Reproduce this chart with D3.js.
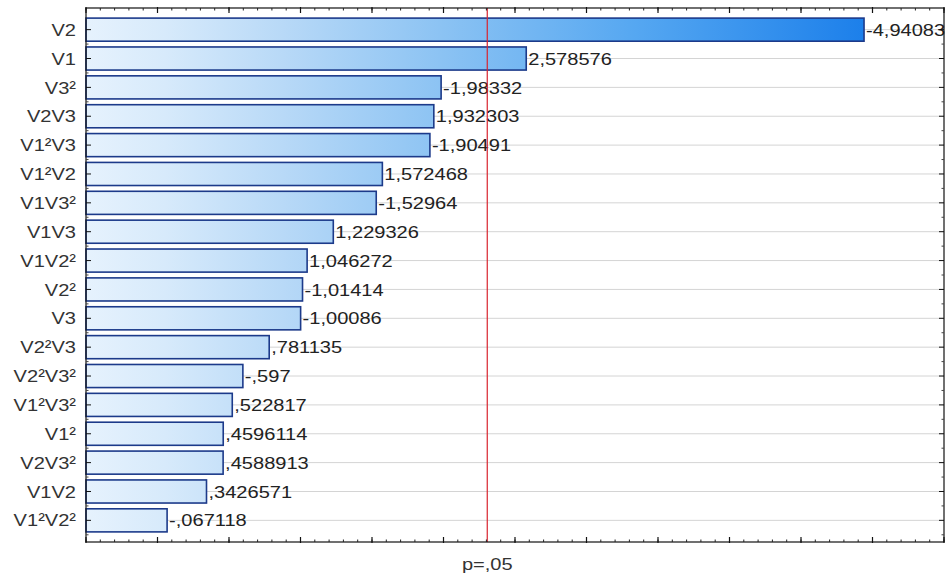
<!DOCTYPE html>
<html>
<head>
<meta charset="utf-8">
<script src="https://cdn.jsdelivr.net/npm/d3@7"></script>
<style>
  html, body { margin: 0; padding: 0; background: #fff; }
  svg { display: block; }
  text { font-family: "Liberation Sans", Arial, sans-serif; }
</style>
</head>
<body>
<svg id="chart" width="947" height="578"></svg>
<script>
// Pareto chart of standardized effects (sorted by absolute size)
const effects = ["V2", "V1", "V3²", "V2V3", "V1²V3", "V1²V2", "V1V3²", "V1V3", "V1V2²",
                 "V2²", "V3", "V2²V3", "V2²V3²", "V1²V3²", "V1²", "V2V3²", "V1V2", "V1²V2²"];
const tValues = [-4.94083, 2.578576, -1.98332, 1.932303, -1.90491, 1.572468, -1.52964, 1.229326, 1.046272,
                 -1.01414, -1.00086, 0.781135, -0.597, 0.522817, 0.4596114, 0.4588913, 0.3426571, -0.067118];
const xDomain = [-0.5, 5.5];
const critical = 2.306004;          // t(0.975; 8)
const criticalLabel = "p=,05";

const plot = { left: 86, right: 944, top: 8, bottom: 542 };
const textStretch = 1.18;           // wide rendering of the labels

const svg = d3.select("#chart");

const x = d3.scaleLinear().domain(xDomain).range([plot.left, plot.right]);
const y = d3.scalePoint().domain(effects).range([plot.top, plot.bottom]).padding(0.75);
const barH = y.step() * 0.8;

// value label in decimal-comma style: -0.597 -> "-,597"
const fmt = v => String(v).replace(/^(-?)0\./, "$1.").replace(".", ",");

const defs = svg.append("defs");
const grad = defs.append("linearGradient")
  .attr("id", "barFill")
  .attr("gradientUnits", "userSpaceOnUse")
  .attr("x1", plot.left).attr("x2", x(5)).attr("y1", 0).attr("y2", 0);
[[0, "#e6f2fd"], [0.1, "#d7eafb"], [0.25, "#b8d9f7"], [0.45, "#8cc3f3"], [0.7, "#55a7f1"], [1, "#1a7eea"]]
  .forEach(([o, c]) => grad.append("stop").attr("offset", o).attr("stop-color", c));

// horizontal grid at each effect
svg.append("g")
  .selectAll("line").data(effects).join("line")
  .attr("x1", plot.left).attr("x2", plot.right)
  .attr("y1", d => y(d)).attr("y2", d => y(d))
  .attr("stroke", "#d4d4d4").attr("stroke-width", 1);

// bars
svg.append("g")
  .selectAll("rect").data(effects).join("rect")
  .attr("x", x(xDomain[0]))
  .attr("y", d => y(d) - barH / 2)
  .attr("width", (d, i) => x(Math.abs(tValues[i])) - x(xDomain[0]))
  .attr("height", barH)
  .attr("fill", "url(#barFill)")
  .attr("stroke", "#1c3a8a").attr("stroke-width", 1.6);

// value labels
svg.append("g")
  .selectAll("text").data(effects).join("text")
  .attr("transform", (d, i) => `translate(${x(Math.abs(tValues[i])) + 2},${y(d)}) scale(${textStretch},1)`)
  .attr("dy", "0.36em")
  .attr("font-size", 17)
  .attr("fill", "#222")
  .text((d, i) => fmt(tValues[i]));

// critical value line
svg.append("line")
  .attr("x1", x(critical)).attr("x2", x(critical))
  .attr("y1", plot.top).attr("y2", plot.bottom)
  .attr("stroke", "#d9232e").attr("stroke-width", 1.2);

// frame
svg.append("rect")
  .attr("x", plot.left).attr("y", plot.top)
  .attr("width", plot.right - plot.left).attr("height", plot.bottom - plot.top)
  .attr("fill", "none").attr("stroke", "#111").attr("stroke-width", 1.2);

// tick marks pointing inside on all four sides
const major = d3.range(xDomain[0], xDomain[1] + 1e-9, 0.5);
const minor = d3.range(xDomain[0], xDomain[1] + 1e-9, 0.1);
function hTicks(yPos, sign) {
  const g = svg.append("g");
  g.selectAll(".mn").data(minor).join("line")
    .attr("x1", d => x(d)).attr("x2", d => x(d))
    .attr("y1", yPos).attr("y2", yPos + sign * 2.5)
    .attr("stroke", "#222");
  g.selectAll(".mj").data(major).join("line")
    .attr("x1", d => x(d)).attr("x2", d => x(d))
    .attr("y1", yPos - sign * 1).attr("y2", yPos + sign * 5)
    .attr("stroke", "#111").attr("stroke-width", 1.2);
}
hTicks(plot.top, 1);
hTicks(plot.bottom, -1);

function vTicks(xPos, sign) {
  const g = svg.append("g");
  g.selectAll(".mj").data(effects).join("line")
    .attr("x1", xPos).attr("x2", xPos + sign * 5)
    .attr("y1", d => y(d)).attr("y2", d => y(d))
    .attr("stroke", "#111");
  g.selectAll(".mn").data(effects).join("line")
    .attr("x1", xPos).attr("x2", xPos + sign * 2.5)
    .attr("y1", d => y(d) + y.step() / 2).attr("y2", d => y(d) + y.step() / 2)
    .attr("stroke", "#444");
}
vTicks(plot.left, 1);
vTicks(plot.right, -1);

// effect names
svg.append("g")
  .selectAll("text").data(effects).join("text")
  .attr("transform", d => `translate(76,${y(d)}) scale(${textStretch},1)`)
  .attr("dy", "0.36em")
  .attr("text-anchor", "end")
  .attr("font-size", 17)
  .attr("fill", "#333")
  .text(d => d);

// critical level caption
svg.append("text")
  .attr("transform", `translate(${x(critical)},570) scale(${textStretch},1)`)
  .attr("text-anchor", "middle")
  .attr("font-size", 17)
  .attr("fill", "#333")
  .text(criticalLabel);
</script>
</body>
</html>
